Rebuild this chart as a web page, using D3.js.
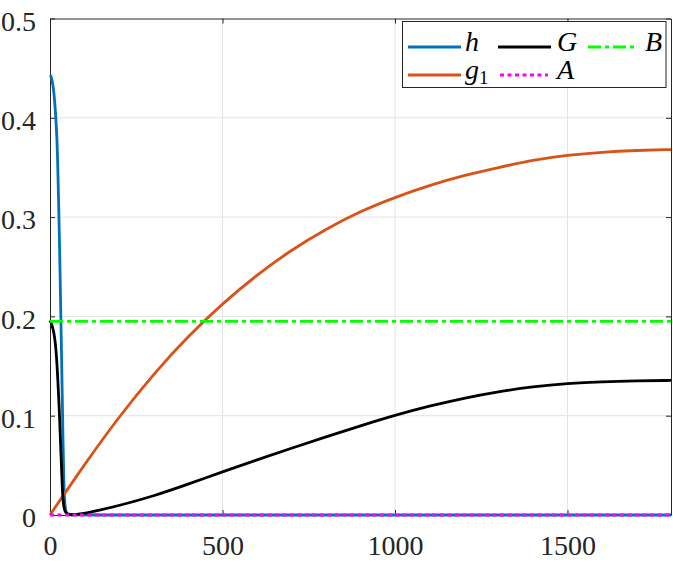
<!DOCTYPE html>
<html>
<head>
<meta charset="utf-8">
<script src="https://cdn.jsdelivr.net/npm/d3@7"></script>
<style>
body { margin: 0; background: #fff; }
svg { display: block; }
</style>
</head>
<body>
<div id="plot"></div>
<script>
//////////////////////////////////////////////////////////////////////////////
// Data

var tH  = [0, 3, 6, 10, 14, 17, 20, 22, 26, 29, 32, 35, 38, 40, 43, 46, 50, 100, 1800];
var hV  = [0.443, 0.442, 0.438, 0.43, 0.415, 0.4, 0.38, 0.36, 0.3, 0.248, 0.19, 0.13, 0.07, 0.03, 0.01, 0.003, 0, 0, 0];

var tG1 = [0, 100, 200, 300, 400, 500, 600, 700, 800, 900, 1000, 1100, 1200, 1300, 1400, 1500, 1600, 1700, 1800];
var g1V = [0, 0.051, 0.099, 0.142, 0.18, 0.213, 0.242, 0.267, 0.288, 0.306, 0.32, 0.332, 0.342, 0.35, 0.3575, 0.3625, 0.3655, 0.3672, 0.368];

var tG  = [0, 5, 10, 15, 20, 25, 28, 32, 36, 40, 45, 55, 70, 100, 145, 200, 300, 400, 500, 600, 700, 800, 900, 1000, 1100, 1200, 1300, 1400, 1500, 1600, 1700, 1800];
var GV  = [0.196, 0.192, 0.186, 0.176, 0.155, 0.12, 0.097, 0.06, 0.022, 0.007, 0.002, 0, 0.0003, 0.0015, 0.005, 0.0095, 0.019, 0.031, 0.0435, 0.0555, 0.0673, 0.0788, 0.0898, 0.1005, 0.1098, 0.1178, 0.1243, 0.1292, 0.1325, 0.1343, 0.1352, 0.1355];

var tA  = [0, 1800];
var AV  = [0, 0];

var tB  = [0, 1800];
var BV  = [0.195, 0.195];

var xTicks = [0, 500, 1000, 1500];
var yTicks = [0, 0.1, 0.2, 0.3, 0.4, 0.5];

//////////////////////////////////////////////////////////////////////////////
// Setup

var W = 673, H = 563;
var mLeft = 50, mRight = 671, mTop = 18.5, mBottom = 515;

var xScale = d3.scaleLinear().domain([0, 1800]).range([mLeft, mRight]);
var yScale = d3.scaleLinear().domain([0, 0.5]).range([mBottom, mTop]);

var svg = d3.select("#plot").append("svg")
    .attr("width", W)
    .attr("height", H);

var axisColor = "#262626";
var serif = "'Liberation Serif', 'Times New Roman', Times, serif";

// grid
svg.append("g").selectAll("line")
    .data(xTicks.slice(1))
    .enter().append("line")
    .attr("x1", xScale).attr("x2", xScale)
    .attr("y1", mTop).attr("y2", mBottom)
    .attr("stroke", "#e3e3e3").attr("stroke-width", 1);

svg.append("g").selectAll("line")
    .data(yTicks.slice(1, -1))
    .enter().append("line")
    .attr("y1", yScale).attr("y2", yScale)
    .attr("x1", mLeft).attr("x2", mRight)
    .attr("stroke", "#e3e3e3").attr("stroke-width", 1);

// axes, ticks pointing inward
function styleAxis(g) {
    g.select(".domain").attr("stroke", axisColor).attr("stroke-width", 1);
    g.selectAll(".tick line").attr("stroke", axisColor);
    g.selectAll("text")
        .attr("fill", axisColor)
        .style("font-family", serif)
        .style("font-size", "28px");
}

svg.append("g")
    .attr("transform", "translate(0," + mBottom + ")")
    .call(d3.axisBottom(xScale).tickValues(xTicks).tickFormat(d3.format("d"))
        .tickSize(-5).tickSizeOuter(0).tickPadding(20))
    .call(styleAxis);

svg.append("g")
    .attr("transform", "translate(0," + mTop + ")")
    .call(d3.axisTop(xScale).tickValues(xTicks).tickFormat("")
        .tickSize(-5).tickSizeOuter(0))
    .call(styleAxis);

svg.append("g")
    .attr("transform", "translate(" + mLeft + ",0)")
    .call(d3.axisLeft(yScale).tickValues(yTicks).tickFormat(d3.format(""))
        .tickSize(-5).tickSizeOuter(0).tickPadding(14))
    .call(styleAxis)
    .selectAll("text").attr("dy", "0.42em");

svg.append("g")
    .attr("transform", "translate(" + mRight + ",0)")
    .call(d3.axisRight(yScale).tickValues(yTicks).tickFormat("")
        .tickSize(-5).tickSizeOuter(0))
    .call(styleAxis);

//////////////////////////////////////////////////////////////////////////////
// Series

var series = [
    {name: "h",  t: tH,  v: hV,  color: "#0072BD", dash: null},
    {name: "g1", t: tG1, v: g1V, color: "#D95319", dash: null},
    {name: "G",  t: tG,  v: GV,  color: "#000000", dash: null},
    {name: "A",  t: tA,  v: AV,  color: "#FF00FF", dash: "4,3.5"},
    {name: "B",  t: tB,  v: BV,  color: "#00FF00", dash: "13,4,4,4"}
];

var line = d3.line()
    .x(function(d) { return xScale(d[0]); })
    .y(function(d) { return yScale(d[1]); })
    .curve(d3.curveBasis);

svg.append("g").selectAll("path")
    .data(series)
    .enter().append("path")
    .attr("d", function(s) { return line(d3.zip(s.t, s.v)); })
    .attr("fill", "none")
    .attr("stroke", function(s) { return s.color; })
    .attr("stroke-width", 2.8)
    .attr("stroke-dasharray", function(s) { return s.dash; });

//////////////////////////////////////////////////////////////////////////////
// Legend

var lg = svg.append("g");
lg.append("rect")
    .attr("x", 402.5).attr("y", 21.5)
    .attr("width", 263.5).attr("height", 66)
    .attr("fill", "#fff")
    .attr("stroke", axisColor).attr("stroke-width", 1);

var legendItems = [
    {s: series[0], x: 408, y: 47, w: 53, tx: 465},
    {s: series[1], x: 408, y: 75, w: 53, tx: 465},
    {s: series[2], x: 498, y: 47, w: 53, tx: 557},
    {s: series[3], x: 500, y: 75, w: 48, tx: 557},
    {s: series[4], x: 588, y: 47, w: 50, tx: 645}
];

var items = lg.selectAll(".item")
    .data(legendItems)
    .enter().append("g");

items.append("line")
    .attr("x1", function(d) { return d.x; })
    .attr("x2", function(d) { return d.x + d.w; })
    .attr("y1", function(d) { return d.y; })
    .attr("y2", function(d) { return d.y; })
    .attr("stroke", function(d) { return d.s.color; })
    .attr("stroke-width", 2.8)
    .attr("stroke-dasharray", function(d) { return d.s.dash; });

var labels = items.append("text")
    .attr("x", function(d) { return d.tx; })
    .attr("y", function(d) { return d.y + 4; })
    .style("font-family", serif)
    .style("font-size", "28px")
    .style("font-style", "italic")
    .attr("fill", "#000");

labels.append("tspan")
    .text(function(d) { return d.s.name.charAt(0); });

labels.filter(function(d) { return d.s.name.length > 1; })
    .append("tspan")
    .attr("dy", 5)
    .style("font-size", "19px")
    .style("font-style", "normal")
    .text(function(d) { return d.s.name.slice(1); });
</script>
</body>
</html>
